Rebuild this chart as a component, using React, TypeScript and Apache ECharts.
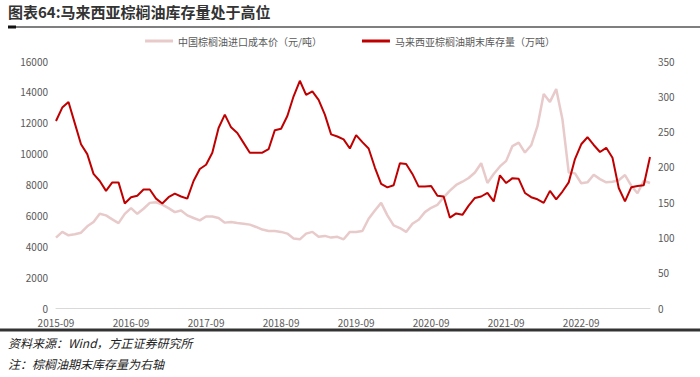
import React, { useEffect, useRef } from "react";
import * as echarts from "echarts";

const titleText = "图表64:马来西亚棕榈油库存量处于高位";
const sourceText = "资料来源：Wind，方正证券研究所";
const noteText = "注：棕榈油期末库存量为右轴";
const seriesNames = ["中国棕榈油进口成本价（元/吨）", "马来西亚棕榈油期末库存量（万吨）"];

const startYear = 2015;
const startMonth = 9;
const monthCount = 96;
const categories: string[] = [];
for (let i = 0; i < monthCount; i++) {
  const m = startMonth - 1 + i;
  const y = startYear + Math.floor(m / 12);
  const mm = (m % 12) + 1;
  categories.push(`${y}-${mm < 10 ? "0" + mm : mm}`);
}

const importCost = [
  4560, 4930, 4710, 4775, 4880, 5290, 5570, 6100, 6000, 5740, 5500, 6100,
  6470, 6100, 6430, 6810, 6850, 6700, 6470, 6210, 6320, 6000, 5830, 5680,
  5930, 5930, 5830, 5530, 5570, 5500, 5460, 5400, 5250, 5080, 4990, 4990,
  4930, 4820, 4500, 4450, 4820, 4930, 4610, 4670, 4560, 4610, 4450, 4930,
  4930, 4990, 5780, 6320, 6810, 6000, 5350, 5180, 4930, 5460, 5720, 6210,
  6490, 6680, 7170, 7600, 7970, 8180, 8420, 8780, 9380, 8100, 8680, 9170,
  9530, 10490, 10710, 10070, 10540, 11780, 13860, 13350, 14180, 12210, 8780, 8720,
  8080, 8140, 8630, 8350, 8140, 8180, 8280, 8610, 7920, 7430, 8240, 8100,
];

const endingStock = [
  265, 284, 292, 262, 232, 218, 190, 180, 166, 178, 178, 148,
  157, 159, 168, 168, 155, 148, 157, 162, 158, 155, 180, 197,
  203, 220, 255, 274, 256, 248, 234, 220, 220, 220, 225, 252,
  254, 272, 300, 322, 302, 307, 295, 274, 246, 243, 239, 226,
  245, 235, 226, 199, 176, 171, 174, 205, 204, 190, 172, 172,
  173, 159, 158, 128, 134, 132, 145, 156, 158, 163, 151, 188,
  177, 184, 183, 163, 157, 154, 149, 166, 154, 165, 178, 211,
  232, 242, 231, 221, 227, 213, 170, 151, 171, 173, 174, 214,
];

export default function App() {
  const ref = useRef<HTMLDivElement>(null);
  useEffect(() => {
    if (!ref.current) return;
    const chart = echarts.init(ref.current, null, { renderer: "svg" });
    const labelColor = "#595959";
    chart.setOption({
      animation: false,
      backgroundColor: "#ffffff",
      textStyle: { fontFamily: "Noto Sans CJK SC" },
      graphic: [
        {
          type: "text",
          left: 8,
          top: 4,
          style: {
            text: titleText,
            fontSize: 15,
            fontWeight: "bold",
            fill: "#333333",
            fontFamily: "Noto Sans CJK SC",
          },
        },
        {
          type: "line",
          shape: { x1: 8, y1: 27, x2: 700, y2: 27 },
          style: { stroke: "#555555", lineWidth: 1.5 },
        },
        {
          type: "line",
          shape: { x1: 8, y1: 27, x2: 16, y2: 27 },
          style: { stroke: "#111111", lineWidth: 3 },
        },
        {
          type: "line",
          shape: { x1: 0, y1: 330, x2: 700, y2: 330 },
          style: { stroke: "#333333", lineWidth: 3 },
        },
        {
          type: "text",
          left: 8,
          top: 336,
          style: {
            text: sourceText,
            fontSize: 12,
            fontStyle: "italic",
            fill: "#222222",
            fontFamily: "Noto Sans CJK SC",
          },
        },
        {
          type: "text",
          left: 8,
          top: 357,
          style: {
            text: noteText,
            fontSize: 12,
            fontStyle: "italic",
            fill: "#222222",
            fontFamily: "Noto Sans CJK SC",
          },
        },
      ],
      legend: {
        top: 31,
        left: "center",
        itemWidth: 28,
        itemHeight: 3,
        itemGap: 40,
        icon: "rect",
        textStyle: { fontSize: 10, color: labelColor },
        data: seriesNames,
      },
      grid: { left: 56, right: 50, top: 61, bottom: 69 },
      xAxis: {
        type: "category",
        data: categories,
        boundaryGap: false,
        axisLine: { lineStyle: { color: "#d9d9d9", width: 1 } },
        axisTick: { show: false },
        axisLabel: {
          interval: 11,
          color: labelColor,
          fontSize: 10,
          margin: 9,
        },
      },
      yAxis: [
        {
          type: "value",
          min: 0,
          max: 16000,
          interval: 2000,
          splitLine: { show: false },
          axisLine: { show: false },
          axisTick: { show: false },
          axisLabel: {
            color: labelColor,
            fontSize: 10,
            margin: 8,
            formatter: (v: number) => String(v),
          },
        },
        {
          type: "value",
          min: 0,
          max: 350,
          interval: 50,
          splitLine: { show: false },
          axisLine: { show: false },
          axisTick: { show: false },
          axisLabel: { color: labelColor, fontSize: 10, margin: 8 },
        },
      ],
      series: [
        {
          name: seriesNames[0],
          type: "line",
          yAxisIndex: 0,
          data: importCost,
          showSymbol: false,
          symbol: "none",
          lineStyle: { color: "#E8CACA", width: 2.5 },
          itemStyle: { color: "#E8CACA" },
        },
        {
          name: seriesNames[1],
          type: "line",
          yAxisIndex: 1,
          data: endingStock,
          showSymbol: false,
          symbol: "none",
          lineStyle: { color: "#C00000", width: 2 },
          itemStyle: { color: "#C00000" },
        },
      ],
    });
    return () => chart.dispose();
  }, []);
  return (
    <div
      ref={ref}
      style={{ position: "fixed", left: 0, top: 0, width: 700, height: 377 }}
    />
  );
}
